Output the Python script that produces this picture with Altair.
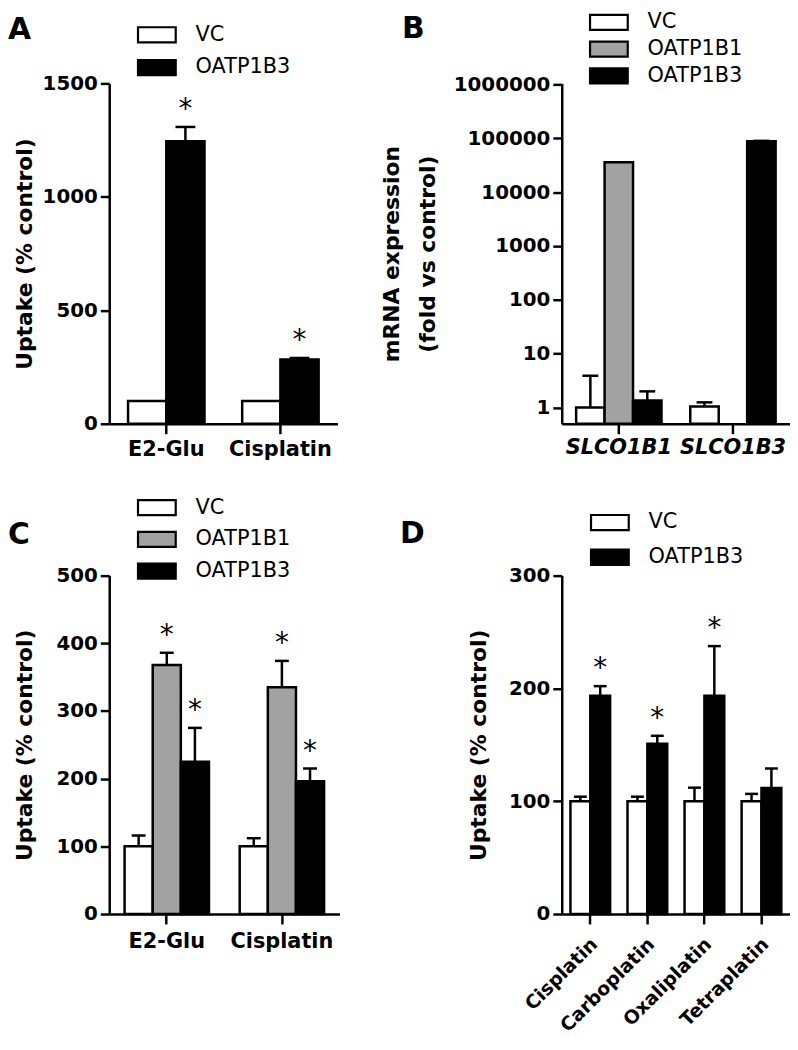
import altair as alt
import pandas as pd

FONT = "DejaVu Sans"

# ---------------- Panel A ----------------
a_categories = ["E2-Glu", "Cisplatin"]
a_series = ["VC", "OATP1B3"]
a_vc = [100, 100]
a_vc_sem = [None, None]
a_oatp1b3 = [1245, 283]
a_oatp1b3_sem = [63, 7]
a_oatp1b3_star = [True, True]

# ---------------- Panel B ----------------
b_genes = ["SLCO1B1", "SLCO1B3"]
b_series = ["VC", "OATP1B1", "OATP1B3"]
b_vc = [1.0, 1.05]
b_vc_sem = [2.9, 0.2]
b_oatp1b1 = [36000, None]
b_oatp1b1_sem = [None, None]
b_oatp1b3 = [1.35, 88000]
b_oatp1b3_sem = [0.65, 2000]

# ---------------- Panel C ----------------
c_categories = ["E2-Glu", "Cisplatin"]
c_series = ["VC", "OATP1B1", "OATP1B3"]
c_vc = [100, 100]
c_vc_sem = [16, 12]
c_oatp1b1 = [368, 335]
c_oatp1b1_sem = [18, 39]
c_oatp1b1_star = [True, True]
c_oatp1b3 = [225, 196]
c_oatp1b3_sem = [50, 19]
c_oatp1b3_star = [True, True]

# ---------------- Panel D ----------------
d_categories = ["Cisplatin", "Carboplatin", "Oxaliplatin", "Tetraplatin"]
d_series = ["VC", "OATP1B3"]
d_vc = [100, 100, 100, 100]
d_vc_sem = [4, 4, 12, 6.5]
d_oatp1b3 = [193.5, 151, 193.5, 111.7]
d_oatp1b3_sem = [8.5, 7, 44, 17.3]
d_oatp1b3_star = [True, True, True, False]

COLORS = {"VC": "white", "OATP1B1": "#a2a2a2", "OATP1B3": "black"}


def frame(cats, series_data):
    rows = []
    for name, values, sems, stars in series_data:
        for i, c in enumerate(cats):
            v = values[i]
            if v is None:
                continue
            s = sems[i] if sems is not None else None
            rows.append({
                "cat": c,
                "series": name,
                "value": v,
                "top": (v + s) if s else None,
                "star": bool(stars[i]) if stars is not None else False,
            })
    return pd.DataFrame(rows)


def panel(df, cats, series, width, height, yscale, yvalues, yformat, ytitle,
          ytitle_x, xpad, cap, letter, letter_dx, letter_dy, leg_x, leg_y,
          leg_rowpad, xaxis, log_base=None, ytitle_lh=None):
    x = alt.X("cat:N", title=None,
              scale=alt.Scale(domain=cats, paddingInner=xpad, paddingOuter=xpad / 2),
              axis=xaxis)
    xo = alt.XOffset("series:N",
                     scale=alt.Scale(domain=series, paddingInner=0, paddingOuter=0))
    yaxis_kwargs = dict(values=yvalues, format=yformat, title=ytitle,
                        titleX=ytitle_x, titleY=height / 2, titleAngle=270,
                        titleAlign="center", titleBaseline="alphabetic",
                        titleFont=FONT, titleFontSize=22, titleFontWeight="bold",
                        titleColor="black", tickSize=9, labelPadding=3,
                        labelFontSize=20)
    if ytitle_lh is not None:
        yaxis_kwargs["titleLineHeight"] = ytitle_lh
    yaxis = alt.Axis(**yaxis_kwargs)

    def Y(field):
        return alt.Y(field, type="quantitative", scale=yscale, axis=yaxis)

    fill = alt.Fill("series:N",
                    scale=alt.Scale(domain=series, range=[COLORS[s] for s in series]),
                    legend=alt.Legend(orient="none", legendX=leg_x, legendY=leg_y,
                                      title=None, direction="vertical",
                                      symbolType="M-2,-0.8H2V0.8H-2Z", symbolSize=361,
                                      symbolStrokeColor="black", symbolStrokeWidth=2.2,
                                      symbolOpacity=1,
                                      labelFont=FONT, labelFontSize=21,
                                      labelColor="black", labelOffset=28,
                                      rowPadding=leg_rowpad, padding=0))
    enc = dict(x=x, xOffset=xo, y=Y("value"), fill=fill)
    if log_base is not None:
        enc["y2"] = alt.datum(log_base)
    bars = alt.Chart().mark_bar(stroke="black", strokeWidth=2.5).encode(**enc)
    errs = alt.Chart().transform_filter("isValid(datum.top)").mark_rule(
        color="black", strokeWidth=2.5).encode(x=x, xOffset=xo, y=Y("value"), y2="top:Q")
    caps = alt.Chart().transform_filter("isValid(datum.top)").mark_tick(
        color="black", thickness=2.5, size=cap, opacity=1).encode(x=x, xOffset=xo, y=Y("top"))
    stars = alt.Chart().transform_filter("datum.star").mark_text(
        text="*", font=FONT, fontSize=28, baseline="alphabetic", dy=-9,
        color="black").encode(x=x, xOffset=xo, y=Y("top"))
    return alt.layer(bars, errs, caps, stars, data=df).properties(
        width=width, height=height,
        title=alt.TitleParams(text=letter, anchor="start", frame="group", orient="top",
                              font=FONT, fontSize=30, fontWeight="bold", color="black",
                              baseline="alphabetic", offset=0, dx=letter_dx, dy=letter_dy))


base_xaxis = dict(tickSize=10, labelAngle=0, labelBaseline="alphabetic",
                  labelFontSize=21, labelAlign="center")

df_a = frame(a_categories, [("VC", a_vc, a_vc_sem, None),
                            ("OATP1B3", a_oatp1b3, a_oatp1b3_sem, a_oatp1b3_star)])
df_b = frame(b_genes, [("VC", b_vc, b_vc_sem, None),
                       ("OATP1B1", b_oatp1b1, b_oatp1b1_sem, None),
                       ("OATP1B3", b_oatp1b3, b_oatp1b3_sem, None)])
df_c = frame(c_categories, [("VC", c_vc, c_vc_sem, None),
                            ("OATP1B1", c_oatp1b1, c_oatp1b1_sem, c_oatp1b1_star),
                            ("OATP1B3", c_oatp1b3, c_oatp1b3_sem, c_oatp1b3_star)])
df_d = frame(d_categories, [("VC", d_vc, d_vc_sem, None),
                            ("OATP1B3", d_oatp1b3, d_oatp1b3_sem, d_oatp1b3_star)])

pa = panel(df_a, a_categories, a_series, 230, 343,
           alt.Scale(domain=[0, 1500], nice=False, zero=True), [0, 500, 1000, 1500], "d",
           "Uptake (% control)", -78, 0.33, 20, "A", -102, 45, 37, -60, 9,
           alt.Axis(labelPadding=22, **base_xaxis))

pb = panel(df_b, b_genes, b_series, 230, 343,
           alt.Scale(type="log", domain=[0.5, 1050000], nice=False),
           [1, 10, 100, 1000, 10000, 100000, 1000000], "d",
           ["mRNA expression", "(fold vs control)"], -164, 0.252, 16, "B", -161, 56.5,
           36.5, -72.5, 3,
           alt.Axis(labelPadding=20, labelFontStyle="italic", **base_xaxis),
           log_base=0.5, ytitle_lh=36)

pc = panel(df_c, c_categories, c_series, 232, 341,
           alt.Scale(domain=[0, 500], nice=False), [0, 100, 200, 300, 400, 500], "d",
           "Uptake (% control)", -78, 0.267, 14, "C", -102, 77.5, 37, -79.5, 8,
           alt.Axis(labelPadding=24, **base_xaxis))

pd_ = panel(df_d, d_categories, d_series, 230, 341,
            alt.Scale(domain=[0, 300], nice=False), [0, 100, 200, 300], "d",
            "Uptake (% control)", -77, 0.304, 13, "D", -163, 61.5, 37.5, -64.5, 11,
            alt.Axis(tickSize=10, labelAngle=315, labelAlign="right", labelBaseline="middle",
                     labelFontSize=19, labelPadding=17, labelOffset=4))

chart = alt.concat(pa, pb, pc, pd_, columns=2, bounds="flush", align="none",
                   spacing={"row": 153, "column": 224}).resolve_scale(
    x="independent", y="independent", xOffset="independent",
    fill="independent").resolve_legend(fill="independent").properties(
    autosize=alt.AutoSizeParams(type="none"),
    padding={"left": 102, "top": 72, "right": 686, "bottom": 962},
    background="white",
).configure_view(stroke=None).configure_axis(
    grid=False, domainColor="black", domainWidth=2.5, tickColor="black", tickWidth=2.5,
    labelFont=FONT, labelFontWeight="bold", labelColor="black",
)

chart.save("out.html", embed_options={"renderer": "svg", "actions": False})
